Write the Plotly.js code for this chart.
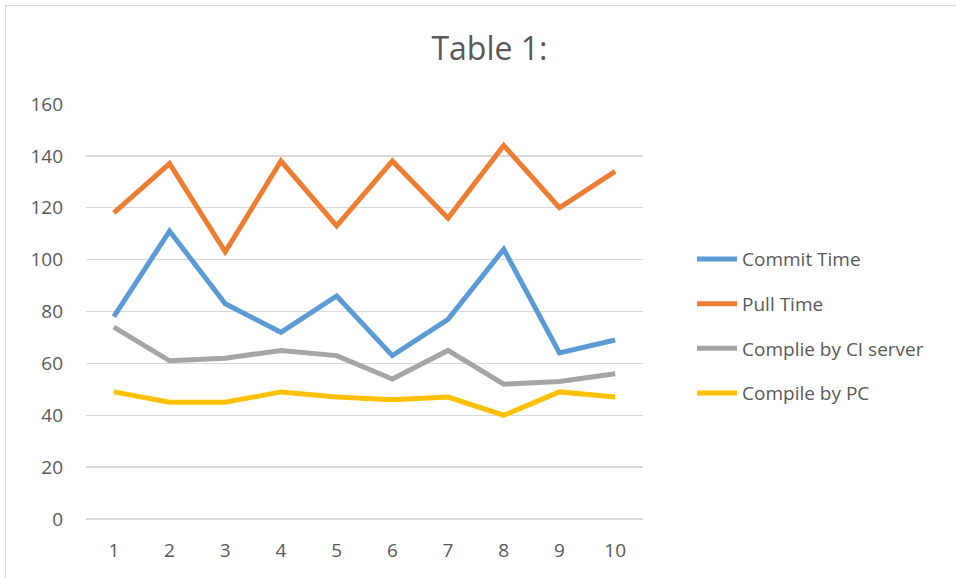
<!DOCTYPE html>
<html><head><meta charset="utf-8">
<script src="https://cdn.plot.ly/plotly-3.0.1.min.js"></script>
<style>body{margin:0;background:#fff;overflow:hidden}#frame{position:absolute;left:5px;top:5px;width:1000px;height:1000px;border:1px solid #d9d9d9;pointer-events:none}#chart{position:absolute;left:0;top:0;width:956px;height:578px}</style>
</head><body>
<div id="chart"></div><div id="frame"></div>
<script>
const categories = ['1','2','3','4','5','6','7','8','9','10'];
const commitTime = [78, 111, 83, 72, 86, 63, 77, 104, 64, 69];
const pullTime = [118, 137, 103, 138, 113, 138, 116, 144, 120, 134];
const ciCompile = [74, 61, 62, 65, 63, 54, 65, 52, 53, 56];
const pcCompile = [49, 45, 45, 49, 47, 46, 47, 40, 49, 47];
const seriesNames = ['Commit Time', 'Pull Time', 'Complie by CI server', 'Compile by PC'];
const seriesColors = ['#5B9BD5', '#ED7D31', '#A5A5A5', '#FFC000'];
const seriesData = [commitTime, pullTime, ciCompile, pcCompile];

const traces = seriesData.map((d, i) => ({
  type: 'scatter', mode: 'lines', x: categories, y: d, name: seriesNames[i],
  legendgroup: 'g' + i,
  line: {color: seriesColors[i], width: 5}
}));

const layout = {
  width: 956, height: 578,
  margin: {l: 86, r: 313, t: 104, b: 59},
  paper_bgcolor: '#fff', plot_bgcolor: '#fff',
  font: {family: 'Open Sans, Liberation Sans, sans-serif', color: '#595959', size: 19},
  title: {text: 'Table 1:', x: 0.512, xanchor: 'center', y: 0.915, yanchor: 'middle',
          font: {size: 32, color: '#595959', family: 'Open Sans, sans-serif'}},
  xaxis: {type: 'category', range: [-0.5, 9.5], showgrid: false, zeroline: false, showline: false,
          ticks: '', ticklabelstandoff: 18, tickfont: {size: 19, color: '#595959'}, fixedrange: true},
  yaxis: {range: [0, 160], dtick: 20, tick0: 0, gridcolor: '#d9d9d9', gridwidth: 1.3,
          zeroline: true, zerolinecolor: '#d9d9d9', zerolinewidth: 1.3, showline: false,
          ticks: '', ticklabelstandoff: 22, tickfont: {size: 19, color: '#595959'}},
  showlegend: true,
  legend: {x: 1.088, xanchor: 'left', y: 0.672, yanchor: 'top', tracegroupgap: 17,
           font: {size: 19, color: '#595959'}, itemwidth: 40, bgcolor: 'rgba(0,0,0,0)'}
};
Plotly.newPlot('chart', traces, layout, {staticPlot: true, displayModeBar: false});
</script>
</body></html>
